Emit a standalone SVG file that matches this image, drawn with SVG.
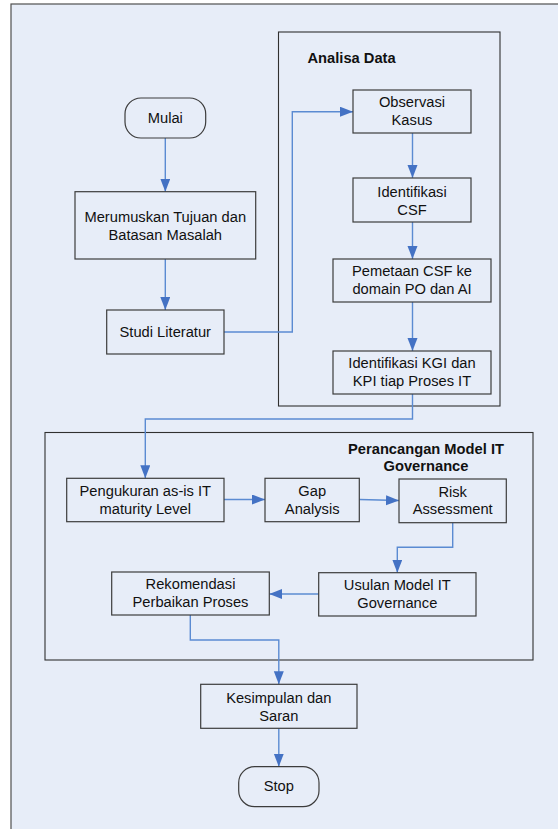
<svg xmlns="http://www.w3.org/2000/svg" width="558" height="829" viewBox="0 0 558 829">
<style>
.bg{fill:#e7edf8;stroke:#505050;stroke-width:1.2}
.grp{fill:none;stroke:#303030;stroke-width:1.1}
.box{fill:#e7edf8;stroke:#3c3c3c;stroke-width:1.2}
.t{font-family:"Liberation Sans",Arial,sans-serif;font-size:14.7px;fill:#111;text-anchor:middle}
.tb{font-family:"Liberation Sans",Arial,sans-serif;font-size:14.7px;font-weight:bold;fill:#111}
.c{fill:none;stroke:#5b8bd2;stroke-width:1.4}
</style>
<defs>
<marker id="ah" markerUnits="userSpaceOnUse" markerWidth="14" markerHeight="12" refX="13" refY="5" orient="auto">
<path d="M0,0 L13,5 L0,10 Z" fill="#4472c4"/>
</marker>
</defs>
<rect x="0" y="0" width="558" height="829" fill="#ffffff"/>
<rect class="bg" x="11" y="4" width="600" height="900"/>
<g id="analisa-data">
<rect class="grp" x="278.5" y="32" width="221.5" height="374"/>
<text class="tb" x="307.5" y="63">Analisa Data</text>
</g>
<g id="perancangan">
<rect class="grp" x="45" y="432.5" width="488" height="227.5"/>
<text class="tb" x="426" y="453.5" text-anchor="middle">Perancangan Model IT</text>
<text class="tb" x="426" y="471" text-anchor="middle">Governance</text>
</g>
<g id="connectors">
<path class="c" marker-end="url(#ah)" d="M165.3,138 V191.7"/>
<path class="c" marker-end="url(#ah)" d="M165.3,259 V310"/>
<path class="c" marker-end="url(#ah)" d="M224,332 H292.3 V111.7 H353"/>
<path class="c" marker-end="url(#ah)" d="M412.5,133 V178"/>
<path class="c" marker-end="url(#ah)" d="M412.5,222 V259"/>
<path class="c" marker-end="url(#ah)" d="M412.5,302 V351"/>
<path class="c" marker-end="url(#ah)" d="M412.5,394 V419 H145.3 V478.3"/>
<path class="c" marker-end="url(#ah)" d="M224,499.5 H265"/>
<path class="c" marker-end="url(#ah)" d="M359.3,499.5 L399,500.5"/>
<path class="c" marker-end="url(#ah)" d="M452.7,522.7 V547.3 H397.3 V572.7"/>
<path class="c" marker-end="url(#ah)" d="M318.7,594 H269.3"/>
<path class="c" marker-end="url(#ah)" d="M190.3,615 V640 H278.8 V684.3"/>
<path class="c" marker-end="url(#ah)" d="M278.8,728.3 V766.7"/>
</g>
<g id="mulai">
<rect class="box" x="125" y="98" width="80.7" height="40" rx="16" ry="16"/>
<text class="t" x="165.3" y="123.3">Mulai</text>
</g>
<g id="merumuskan">
<rect class="box" x="75" y="191.7" width="180.7" height="67.3"/>
<text class="t" x="165.3" y="222">Merumuskan Tujuan dan</text>
<text class="t" x="165.3" y="239.5">Batasan Masalah</text>
</g>
<g id="studi">
<rect class="box" x="106.7" y="310" width="117.3" height="44"/>
<text class="t" x="165.3" y="337.3">Studi Literatur</text>
</g>
<g id="observasi">
<rect class="box" x="353" y="90" width="118" height="43"/>
<text class="t" x="412" y="107.2">Observasi</text>
<text class="t" x="412" y="125.2">Kasus</text>
</g>
<g id="identifikasi-csf">
<rect class="box" x="353" y="178" width="118" height="44"/>
<text class="t" x="412" y="197.2">Identifikasi</text>
<text class="t" x="412" y="215.2">CSF</text>
</g>
<g id="pemetaan">
<rect class="box" x="333" y="259" width="158" height="43"/>
<text class="t" x="412" y="276.2">Pemetaan CSF ke</text>
<text class="t" x="412" y="294.2">domain PO dan AI</text>
</g>
<g id="identifikasi-kgi">
<rect class="box" x="333" y="351" width="158" height="43"/>
<text class="t" x="412" y="368.2">Identifikasi KGI dan</text>
<text class="t" x="412" y="386.2">KPI tiap Proses IT</text>
</g>
<g id="pengukuran">
<rect class="box" x="66.7" y="478.3" width="157.3" height="43.4"/>
<text class="t" x="145.3" y="495.9">Pengukuran as-is IT</text>
<text class="t" x="145.3" y="513.5">maturity Level</text>
</g>
<g id="gap">
<rect class="box" x="265" y="478.3" width="94.3" height="43.4"/>
<text class="t" x="312.2" y="495.9">Gap</text>
<text class="t" x="312.2" y="513.5">Analysis</text>
</g>
<g id="risk">
<rect class="box" x="399" y="479" width="107.3" height="43.7"/>
<text class="t" x="452.7" y="496.9">Risk</text>
<text class="t" x="452.7" y="514.2">Assessment</text>
</g>
<g id="usulan">
<rect class="box" x="318.7" y="572.7" width="157.3" height="43.3"/>
<text class="t" x="397.3" y="590.2">Usulan Model IT</text>
<text class="t" x="397.3" y="607.9">Governance</text>
</g>
<g id="rekomendasi">
<rect class="box" x="111.7" y="572" width="157.6" height="43"/>
<text class="t" x="190.5" y="588.9">Rekomendasi</text>
<text class="t" x="190.5" y="607.2">Perbaikan Proses</text>
</g>
<g id="kesimpulan">
<rect class="box" x="200.7" y="684.3" width="156.3" height="44"/>
<text class="t" x="278.8" y="702.5">Kesimpulan dan</text>
<text class="t" x="278.8" y="720.9">Saran</text>
</g>
<g id="stop">
<rect class="box" x="238.7" y="766.7" width="80.3" height="40" rx="16" ry="16"/>
<text class="t" x="278.8" y="791.3">Stop</text>
</g>
</svg>
